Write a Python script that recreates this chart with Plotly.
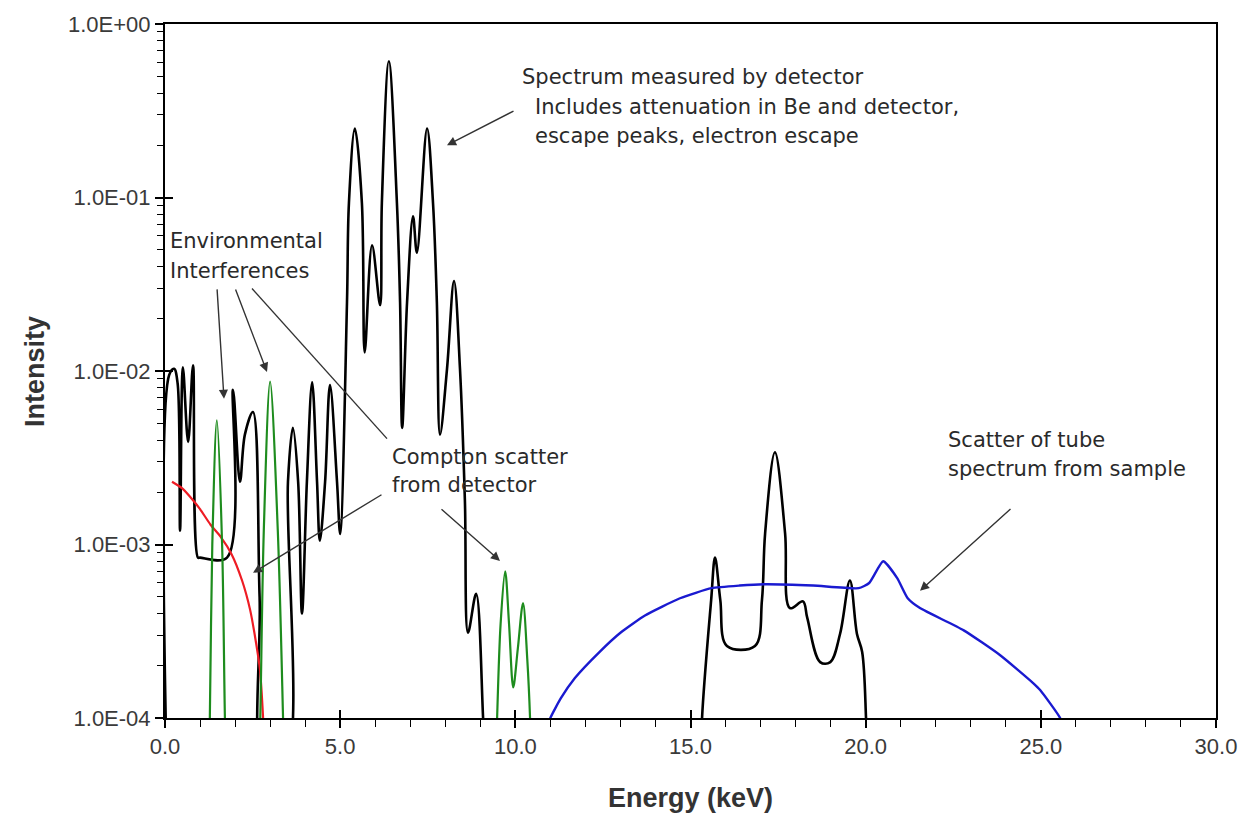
import plotly.graph_objects as go

# ---------------- data ----------------
# measured spectrum (black) -- two segments separated by a gap (None)
det_energy = [0.05, 0.12, 0.26, 0.36, 0.43, 0.51, 0.66, 0.80, 0.94, 1.00, 1.77, 1.94,
              2.14, 2.28, 2.51, 2.70, 2.85, 3.40, 3.51, 3.65, 3.80, 3.91, 4.05, 4.20,
              4.34, 4.42, 4.57, 4.71, 4.91, 5.00, 5.195, 5.25, 5.42, 5.62, 5.70, 5.91,
              6.14, 6.19, 6.39, 6.62, 6.71, 6.77, 6.91, 7.08, 7.19, 7.48, 7.65, 7.76,
              7.85, 8.05, 8.25, 8.42, 8.56, 8.65, 8.88, 9.08, 9.15,
              None,
              15.30, 15.33, 15.59, 15.70, 15.85, 16.04, 16.84, 17.04, 17.13, 17.41,
              17.70, 17.84, 18.21, 18.33, 18.70, 18.99, 19.27, 19.55, 19.75, 19.90,
              20.01, 20.05]
det_intensity = [5e-5, 0.0095, 0.0103, 0.0085, 0.0012, 0.0105, 0.0039, 0.0108, 0.00084,
                 0.00084, 0.00084, 0.0078, 0.0023, 0.0043, 0.0058, 0.0005, 5e-5, 5e-5,
                 0.0023, 0.0047, 0.0023, 0.00040, 0.0023, 0.0086, 0.0023, 0.00105,
                 0.0023, 0.0083, 0.0023, 0.00115, 0.025, 0.093, 0.25, 0.093, 0.0128,
                 0.053, 0.024, 0.093, 0.61, 0.093, 0.025, 0.0047, 0.025, 0.078, 0.048,
                 0.25, 0.093, 0.025, 0.0043, 0.0103, 0.033, 0.0103, 0.0018, 0.00031,
                 0.00052, 1e-4, 5e-5,
                 None,
                 5e-5, 1e-4, 0.00048, 0.00084, 0.00048, 0.00026, 0.00026, 0.00048,
                 0.00116, 0.0034, 0.00116, 0.00043, 0.00047, 0.00038, 0.00021, 0.00021,
                 0.000306, 0.00062, 0.000306, 0.00024, 1e-4, 5e-5]

# environmental interference peaks (green)
env_energy = [1.22, 1.28, 1.35, 1.48, 1.63, 1.71, 1.77, None,
              2.66, 2.72, 2.82, 3.00, 3.22, 3.37, 3.43, None,
              9.42, 9.48, 9.58, 9.71, 9.82, 9.94, 10.07, 10.22, 10.34, 10.42, 10.48]
env_intensity = [3e-5, 1e-4, 0.001, 0.0052, 0.001, 1e-4, 3e-5, None,
                 3e-5, 1e-4, 0.0012, 0.0087, 0.0012, 1e-4, 3e-5, None,
                 3e-5, 1e-4, 0.00035, 0.00070, 0.00035, 0.00015, 0.00025, 0.00046,
                 0.00022, 1e-4, 3e-5]

# Compton scatter from detector (red)
compton_energy = [0.20, 0.50, 0.80, 1.00, 1.30, 1.60, 1.90, 2.20, 2.43, 2.60, 2.71, 2.80, 2.86]
compton_intensity = [0.0023, 0.0021, 0.0018, 0.0016, 0.0013, 0.0011, 0.00088, 0.00062,
                     0.00042, 0.00027, 0.00019, 0.0001, 0.00005]

# scatter of tube spectrum from sample (blue)
tube_energy = [10.95, 11.0, 11.3, 11.7, 12.4, 13.0, 13.7, 14.7, 15.6, 16.4, 17.1, 18.5,
               19.8, 20.1, 20.5, 20.9, 21.2, 21.55, 22.8, 23.84, 24.78, 24.98, 25.55, 25.6]
tube_intensity = [9e-5, 1e-4, 0.00013, 0.00017, 0.00024, 0.00031, 0.00039, 0.00049,
                  0.00056, 0.00058, 0.00059, 0.00058, 0.00056, 0.0006, 0.00080, 0.00064,
                  0.00049, 0.00043, 0.00032, 0.00023, 0.000159, 0.000145, 1e-4, 9e-5]

x_tick_vals = [0, 5, 10, 15, 20, 25, 30]
x_tick_text = ["0.0", "5.0", "10.0", "15.0", "20.0", "25.0", "30.0"]
y_tick_vals = [1, 0.1, 0.01, 0.001, 0.0001]
y_tick_text = ["1.0E+00", "1.0E-01", "1.0E-02", "1.0E-03", "1.0E-04"]

# ---------------- layout geometry ----------------
W, H = 1256, 815
L, R, T, B = 165, 1216, 20, 718


def P(px, py):
    """pixel -> paper coordinates"""
    return (px - L) / (R - L), (B - py) / (B - T)


fig = go.Figure()

fig.add_trace(go.Scatter(x=det_energy, y=det_intensity, mode="lines",
                         line=dict(color="black", width=2.6, shape="spline", smoothing=1.0),
                         connectgaps=False, hoverinfo="skip"))
fig.add_trace(go.Scatter(x=compton_energy, y=compton_intensity, mode="lines",
                         line=dict(color="#ee1c24", width=2.2, shape="spline", smoothing=0.6),
                         hoverinfo="skip"))
fig.add_trace(go.Scatter(x=env_energy, y=env_intensity, mode="lines",
                         line=dict(color="#1e8c1e", width=2.2, shape="spline", smoothing=0.9),
                         connectgaps=False, hoverinfo="skip", xaxis="x2", yaxis="y2"))
fig.add_trace(go.Scatter(x=tube_energy, y=tube_intensity, mode="lines",
                         line=dict(color="#1a1ad0", width=2.4, shape="spline", smoothing=0.5),
                         hoverinfo="skip"))

tick_font = dict(family="Liberation Sans, Arial, sans-serif", size=22, color="#3a3a3a")
minor_y = [m * 10 ** e for e in range(-4, 0) for m in range(2, 10)]

fig.update_layout(
    width=W, height=H,
    margin=dict(l=L, r=W - R, t=T, b=H - B),
    paper_bgcolor="white", plot_bgcolor="white",
    showlegend=False,
    xaxis=dict(range=[0, 30], tickmode="array", tickvals=x_tick_vals, ticktext=x_tick_text,
               ticks="outside", ticklen=8, tickwidth=1.5, tickcolor="black",
               showline=True, linewidth=2, linecolor="black", mirror=True,
               showgrid=False, zeroline=False, tickfont=tick_font,
               minor=dict(tickmode="linear", tick0=0, dtick=1, ticks="outside",
                          ticklen=7, tickwidth=1.2, tickcolor="black", showgrid=False)),
    yaxis=dict(type="log", range=[-4, 0], tickmode="array", tickvals=y_tick_vals,
               ticktext=y_tick_text, ticks="outside", ticklen=8, tickwidth=1.5,
               tickcolor="black", showline=True, linewidth=2, linecolor="black",
               mirror=True, showgrid=False, zeroline=False, tickfont=tick_font,
               minor=dict(tickmode="array", tickvals=minor_y, ticks="outside",
                          ticklen=6, tickwidth=1.2, tickcolor="black", showgrid=False)),
    xaxis2=dict(range=[0, 30], overlaying="x", anchor="y2", side="bottom",
                tickmode="array", tickvals=x_tick_vals, ticks="inside", ticklen=8,
                tickwidth=1.5, tickcolor="black", showticklabels=False,
                showline=False, showgrid=False, zeroline=False),
    yaxis2=dict(type="log", range=[-4, 0], overlaying="y", anchor="x2", side="left",
                tickmode="array", tickvals=y_tick_vals, ticks="inside", ticklen=8,
                tickwidth=1.5, tickcolor="black", showticklabels=False,
                showline=False, showgrid=False, zeroline=False),
)

ann_font = dict(family="DejaVu Sans, Verdana, sans-serif", size=21, color="#2a2a2a")
title_font = dict(family="Liberation Sans, Arial, sans-serif", size=27, color="#333333")

texts = [
    ("Spectrum measured by detector", 520, 73),
    ("Includes attenuation in Be and detector,", 533, 103),
    ("escape peaks, electron escape", 533, 133),
    ("Environmental", 168, 238),
    ("Interferences", 168, 268),
    ("Compton scatter", 390, 455),
    ("from detector", 390, 484),
    ("Scatter of tube", 946, 438),
    ("spectrum from sample", 946, 468),
]
annotations = []
for txt, px, py in texts:
    x, y = P(px, py)
    annotations.append(dict(text=txt, x=x, y=y, xref="paper", yref="paper",
                            xanchor="left", yanchor="middle", showarrow=False,
                            font=ann_font, bgcolor="rgba(255,255,255,0)"))

# arrows: (head_px, head_py, tail_px, tail_py)
arrows = [
    (447, 142, 515, 107),
    (224, 397, 217, 286),
    (267, 370, 235, 286),
    (500, 560, 440, 507),
    (253, 572, 383, 493),
    (920, 590, 1012, 507),
]
for hx, hy, tx, ty in arrows:
    x, y = P(hx, hy)
    annotations.append(dict(text="", x=x, y=y, xref="paper", yref="paper",
                            ax=tx - hx, ay=ty - hy, axref="pixel", ayref="pixel",
                            showarrow=True, arrowhead=2, arrowsize=1.3, arrowwidth=1.4,
                            arrowcolor="#333333", standoff=0, startstandoff=0))

# axis titles
x, y = P(35, 370)
annotations.append(dict(text="<b>Intensity</b>", x=x, y=y, xref="paper", yref="paper",
                        textangle=-90, showarrow=False, font=title_font,
                        xanchor="center", yanchor="middle"))
x, y = P(690, 798)
annotations.append(dict(text="<b>Energy (keV)</b>", x=x, y=y, xref="paper", yref="paper",
                        showarrow=False, font=title_font, xanchor="center", yanchor="middle"))

fig.update_layout(annotations=annotations)

# plain connector line from "Environmental Interferences" toward the Compton label
x0, y0 = P(252, 286)
x1, y1 = P(387, 437)
fig.add_shape(type="line", x0=x0, y0=y0, x1=x1, y1=y1, xref="paper", yref="paper",
              line=dict(color="#333333", width=1.4))

fig.write_html("out.html")
